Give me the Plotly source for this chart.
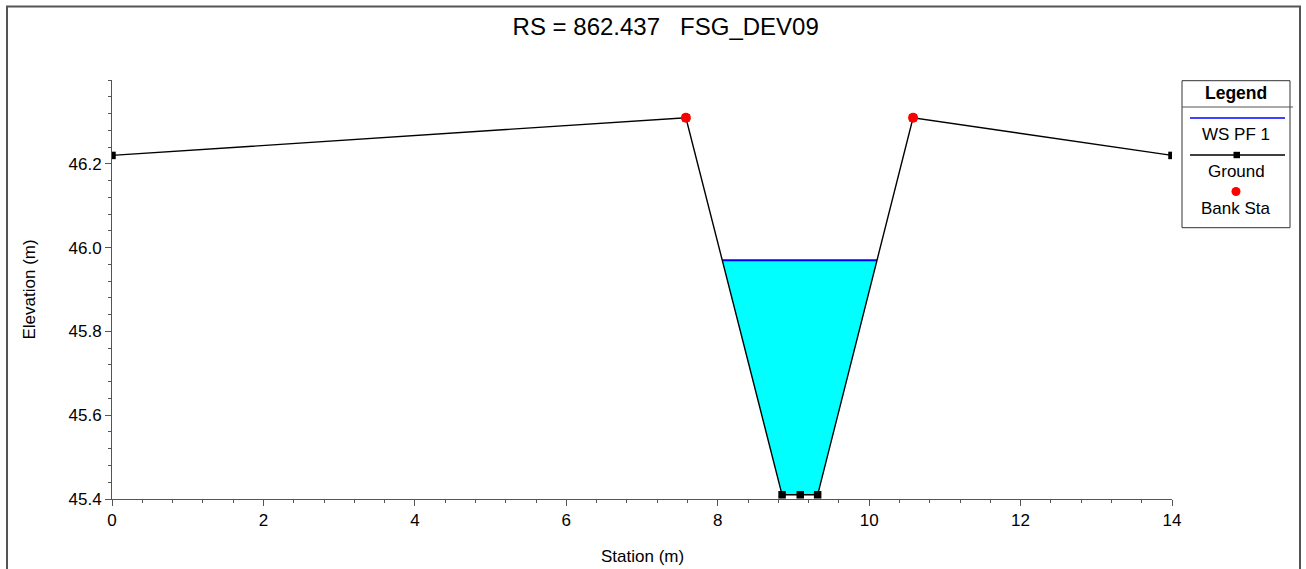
import numpy as np
import plotly.graph_objects as go

# ---- data ----
ground_station = [0.0, 7.58, 8.85, 9.09, 9.32, 10.58, 14.0]
ground_elev = [46.22, 46.31, 45.41, 45.41, 45.41, 46.31, 46.22]
bank_station = [7.58, 10.58]
bank_elev = [46.31, 46.31]
ws_elev = 45.97
title_text = "RS = 862.437   FSG_DEV09"
x_ticks = [0, 2, 4, 6, 8, 10, 12, 14]
y_ticks = [45.4, 45.6, 45.8, 46.0, 46.2]

FONT = "Arial, Liberation Sans, sans-serif"

# water surface extent (intersection with ground)
gs = np.array(ground_station)
ge = np.array(ground_elev)
imin = int(np.argmin(ge))
left_x = float(np.interp(ws_elev, ge[:imin + 1][::-1], gs[:imin + 1][::-1]))
jmin = len(ge) - 1 - int(np.argmin(ge[::-1]))
right_x = float(np.interp(ws_elev, ge[jmin:jmin + 2], gs[jmin:jmin + 2]))
inside = [(s, e) for s, e in zip(ground_station, ground_elev) if left_x < s < right_x and e < ws_elev]
fill_x = [left_x] + [p[0] for p in inside] + [right_x]
fill_y = [ws_elev] + [p[1] for p in inside] + [ws_elev]

fig = go.Figure()
fig.add_trace(go.Scatter(x=fill_x, y=fill_y, fill="toself", fillcolor="#00FFFF",
                         mode="lines", line=dict(width=0, color="#00FFFF"),
                         showlegend=False, hoverinfo="skip"))
fig.add_trace(go.Scatter(x=[left_x, right_x], y=[ws_elev, ws_elev], mode="lines",
                         line=dict(color="#0000FF", width=2), name="WS PF 1", showlegend=False))
fig.add_trace(go.Scatter(x=ground_station, y=ground_elev, mode="lines+markers",
                         line=dict(color="black", width=1.4),
                         marker=dict(symbol="square", size=7.5, color="black"),
                         name="Ground", showlegend=False))
fig.add_trace(go.Scatter(x=bank_station, y=bank_elev, mode="markers",
                         marker=dict(symbol="circle", size=10, color="#FF0000"),
                         name="Bank Sta", showlegend=False))

L, R, T, B = 112, 134, 80, 70
W, H = 1306, 569
pw, ph = W - L - R, H - T - B


def px(x):
    return (x - L) / pw


def py(y):
    return (H - B - y) / ph


axis_common = dict(showgrid=False, zeroline=False, showline=True, linecolor="#555555",
                   linewidth=1, ticks="outside", ticklen=6, tickcolor="#555555",
                   tickfont=dict(family=FONT, size=17, color="black"))
fig.update_xaxes(range=[0, 14], tickvals=x_ticks, ticktext=[str(v) for v in x_ticks],
                 minor=dict(dtick=0.4, tick0=0, ticks="outside", ticklen=3, tickcolor="#555555"),
                 **axis_common)
fig.update_yaxes(range=[45.4, 46.4], tickvals=y_ticks, ticktext=[f"{v:.1f}" for v in y_ticks],
                 minor=dict(dtick=0.04, tick0=45.4, ticks="outside", ticklen=3, tickcolor="#555555"),
                 **axis_common)

shapes = []
annotations = []
# outer border
shapes.append(dict(type="rect", xref="paper", yref="paper", x0=px(7), x1=px(1300),
                   y0=py(6.5), y1=py(580), line=dict(color="#555555", width=2)))
# legend box
shapes.append(dict(type="rect", xref="paper", yref="paper", x0=px(1182), x1=px(1290),
                   y0=py(80.7), y1=py(227.7), line=dict(color="#333333", width=1),
                   fillcolor="white"))
shapes.append(dict(type="line", xref="paper", yref="paper", x0=px(1182), x1=px(1293),
                   y0=py(107), y1=py(107), line=dict(color="#555555", width=1)))
shapes.append(dict(type="line", xref="paper", yref="paper", x0=px(1190), x1=px(1285),
                   y0=py(118), y1=py(118), line=dict(color="#0000FF", width=1.5)))
shapes.append(dict(type="line", xref="paper", yref="paper", x0=px(1190), x1=px(1285),
                   y0=py(155), y1=py(155), line=dict(color="black", width=1.3)))
shapes.append(dict(type="rect", xref="paper", yref="paper", x0=px(1233.5), x1=px(1240),
                   y0=py(151.8), y1=py(158.2), line=dict(width=0), fillcolor="black"))
shapes.append(dict(type="circle", xref="paper", yref="paper", x0=px(1231.5), x1=px(1240.5),
                   y0=py(187), y1=py(196), line=dict(width=0), fillcolor="#FF0000"))

annotations.append(dict(text="<b>Legend</b>", xref="paper", yref="paper", x=px(1236), y=py(92.5),
                        showarrow=False, xanchor="center", yanchor="middle",
                        font=dict(family=FONT, size=17.5, color="black")))
for txt, yy in [("WS PF 1", 135), ("Ground", 171), ("Bank Sta", 208.5)]:
    annotations.append(dict(text=txt, xref="paper", yref="paper", x=px(1236), y=py(yy),
                            showarrow=False, xanchor="center", yanchor="middle",
                            font=dict(family=FONT, size=17, color="black")))
# axis titles
annotations.append(dict(text="Station (m)", xref="paper", yref="paper", x=px(642), y=py(556),
                        showarrow=False, xanchor="center", yanchor="middle",
                        font=dict(family=FONT, size=17, color="black")))
annotations.append(dict(text="Elevation (m)", xref="paper", yref="paper", x=px(29), y=py(289.5),
                        showarrow=False, xanchor="center", yanchor="middle", textangle=-90,
                        font=dict(family=FONT, size=17, color="black")))

fig.update_layout(
    width=W, height=H,
    margin=dict(l=L, r=R, t=T, b=B, autoexpand=False),
    paper_bgcolor="white", plot_bgcolor="white",
    title=dict(text=title_text, x=665.7 / W, xanchor="center", y=1 - 27 / H, yanchor="middle",
               xref="container", yref="container",
               font=dict(family=FONT, size=24, color="black")),
    shapes=shapes, annotations=annotations, showlegend=False,
    hovermode=False,
)

fig.write_html("out.html", config={"displayModeBar": False},
               post_script="document.body.style.margin='0';document.body.style.overflow='hidden';")
